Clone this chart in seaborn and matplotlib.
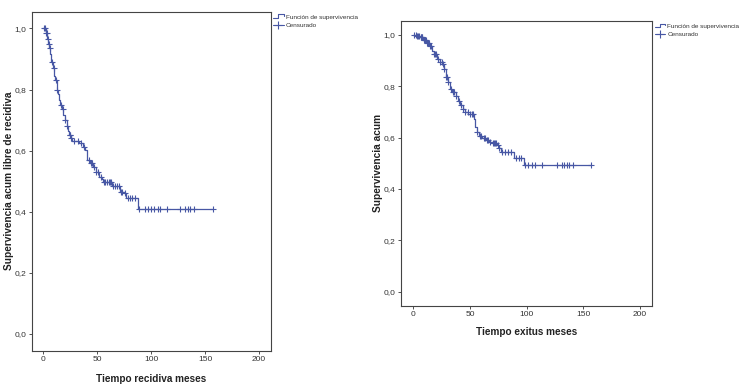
import numpy as np
import matplotlib
matplotlib.use("Agg")
import matplotlib.pyplot as plt
import seaborn as sns
from matplotlib.lines import Line2D
from matplotlib.legend_handler import HandlerBase
from matplotlib.ticker import FuncFormatter

# ---------------- data ----------------
left_times = [0, 2, 3.5, 4.6, 5.5, 6.5, 7.5, 8.7, 10, 11, 12.5, 13.5, 14.5, 15.5, 17, 18.6,
              20, 21.5, 23, 24, 25.5, 26.5, 33, 36.5, 39, 40.8, 43, 46, 48.5, 51.5, 54,
              55.5, 64, 71, 75, 77, 88, 157]
left_surv = [1.0, 0.985, 0.967, 0.95, 0.935, 0.915, 0.89, 0.87, 0.845, 0.83, 0.80, 0.785,
             0.765, 0.75, 0.735, 0.716, 0.70, 0.68, 0.665, 0.65, 0.64, 0.632, 0.624, 0.613,
             0.602, 0.569, 0.558, 0.547, 0.53, 0.514, 0.506, 0.498, 0.484, 0.466, 0.46,
             0.444, 0.408, 0.408]
left_censor = [1, 1.5, 2.5, 3, 4, 5, 6, 8, 9.5, 12, 13, 16, 18, 20.5, 22, 24.5, 25, 26,
               28, 32, 35, 38, 42, 44, 45, 47, 49, 51, 53, 56, 57, 59, 61, 62, 63, 65,
               66, 68, 70, 72, 73, 76, 78, 80, 82, 85,
               89, 94, 97, 100, 103, 106, 108, 114.5, 127, 131, 134, 136, 140, 157]

right_times = [0, 3, 6, 9, 12, 14.5, 16.5, 18, 21, 23.5, 25.5, 27, 28.5, 30.5, 32.5, 34.5,
               37.5, 39.5, 41.5, 43.5, 45.5, 48.5, 53.5, 54.5, 56, 58, 61, 64, 67, 70, 74,
               75.5, 77.5, 89, 98, 157]
right_surv = [1.0, 0.996, 0.99, 0.98, 0.967, 0.955, 0.938, 0.925, 0.905, 0.895, 0.886,
              0.866, 0.834, 0.815, 0.789, 0.776, 0.763, 0.743, 0.726, 0.713, 0.70, 0.69,
              0.672, 0.64, 0.622, 0.607, 0.597, 0.591, 0.584, 0.578, 0.572, 0.56, 0.545,
              0.52, 0.494, 0.494]
right_censor = [1, 2, 3.5, 4, 5, 6.5, 7, 7.5, 8, 9.5, 10, 10.5, 11, 12.5, 13, 14, 15, 16,
                18.5, 19, 20, 22, 24, 25, 26, 27.5, 29, 30, 31, 33, 35, 36, 38, 40, 42, 44,
                46, 48, 50, 52, 53, 56.5, 58.5, 60, 62, 63, 65, 66, 68, 70.5, 71, 72, 73,
                74.5, 76, 78, 80.6, 83.6, 86.6, 90.3, 93.3, 95.3, 98.4, 101.3, 104.4,
                107.3, 113.2, 127.1, 131, 133, 135.4, 137.7, 140.4, 157]

xticks = [0, 50, 100, 150, 200]
yticks = [0.0, 0.2, 0.4, 0.6, 0.8, 1.0]
legend_labels = ["Función de supervivencia", "Censurado"]

# ---------------- style ----------------
sns.set_style("ticks")
plt.rcParams["font.family"] = ["Liberation Sans", "DejaVu Sans"]
COLOR = "#4757a4"


class StepHandler(HandlerBase):
    def create_artists(self, legend, orig_handle, xdescent, ydescent, width, height,
                       fontsize, trans):
        x0 = -xdescent
        y0 = -ydescent
        xs = [x0, x0 + width * 0.45, x0 + width * 0.45, x0 + width, x0 + width]
        ys = [y0 + height * 0.25, y0 + height * 0.25, y0 + height * 0.95,
              y0 + height * 0.95, y0 + height * 0.55]
        ln = Line2D(xs, ys, color=COLOR, lw=0.8, transform=trans)
        return [ln]


def surv_at(times, surv, t):
    idx = np.searchsorted(np.asarray(times), t, side="right") - 1
    return np.asarray(surv)[idx]


fig = plt.figure(figsize=(7.5, 3.92), dpi=100)
ax1 = fig.add_axes([0.0423, 0.1054, 0.3187, 0.8648])
ax2 = fig.add_axes([0.5347, 0.2201, 0.3351, 0.7270])

panels = [
    (ax1, left_times, left_surv, left_censor, "Tiempo recidiva meses",
     "Supervivencia acum libre de recidiva", (-0.074, -0.070)),
    (ax2, right_times, right_surv, right_censor, "Tiempo exitus meses",
     "Supervivencia acum", (-0.072, -0.073)),
]

for ax, t, s, cens, xl, yl, labc in panels:
    sns.lineplot(x=t, y=s, ax=ax, drawstyle="steps-post", color=COLOR, lw=0.9,
                 estimator=None, sort=False)
    cs = surv_at(t, s, cens)
    ax.plot(cens, cs, linestyle="none", marker="+", color=COLOR, ms=4.2, mew=0.8)
    ax.set_xlim(-10.8, 210.8)
    ax.set_ylim(-0.055, 1.055)
    ax.set_xticks(xticks)
    ax.set_yticks(yticks)
    ax.yaxis.set_major_formatter(FuncFormatter(lambda v, p: f"{v:.1f}".replace(".", ",")))
    ax.tick_params(axis="both", labelsize=6, length=2.5, width=0.6,
                   colors="#333333", pad=1.5)
    for sp in ax.spines.values():
        sp.set_visible(True)
        sp.set_linewidth(0.8)
        sp.set_color("#444444")
    ax.set_xlabel(xl, fontsize=7.2, fontweight="bold", color="#222222")
    ax.set_ylabel(yl, fontsize=7.3, fontweight="bold", color="#222222")
    ax.yaxis.set_label_coords(labc[0], 0.5)
    ax.xaxis.set_label_coords(0.5, labc[1])
    handles = [Line2D([], [], color=COLOR, lw=0.8),
               Line2D([0], [0], color=COLOR, lw=0.8, marker="+", ms=6, mew=0.8,
                      markevery=[0])]
    leg = ax.legend(handles, legend_labels, loc="upper left", bbox_to_anchor=(1.0, 1.0),
                    frameon=False, fontsize=4.6, handlelength=1.6, handletextpad=0.35,
                    borderaxespad=0.1, borderpad=0.3, labelspacing=0.45,
                    handler_map={handles[0]: StepHandler()})
    for txt in leg.get_texts():
        txt.set_color("#333333")

fig.savefig("out.png", dpi=100)
